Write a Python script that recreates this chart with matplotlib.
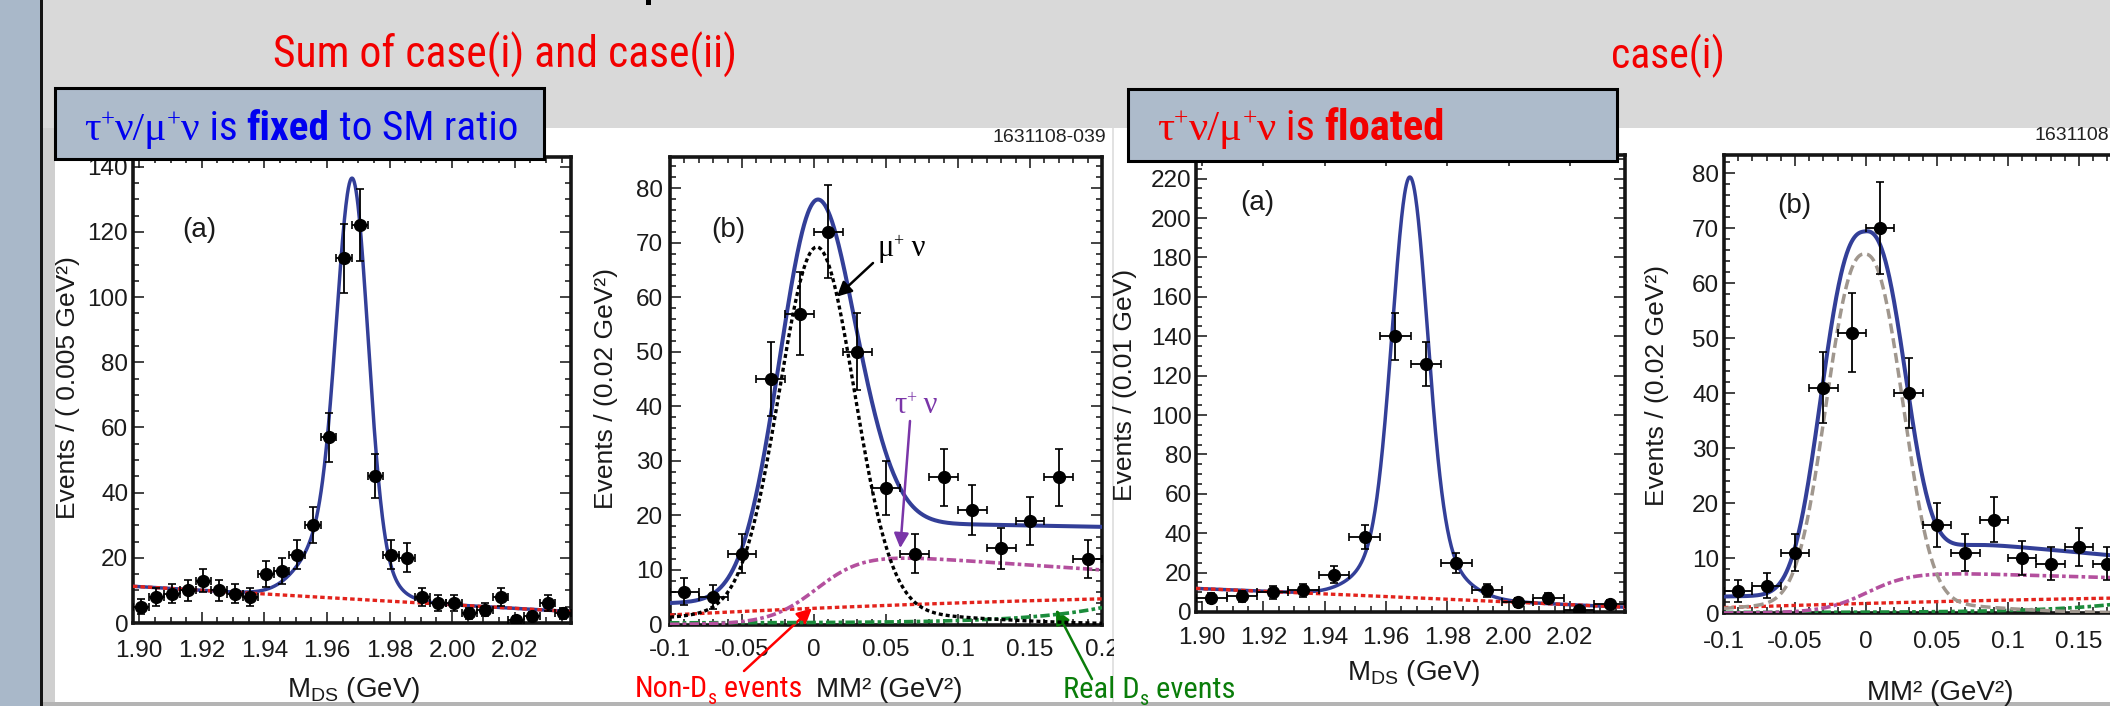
import numpy as np
import matplotlib
matplotlib.use('Agg')
import matplotlib.pyplot as plt
from matplotlib.patches import Rectangle
from matplotlib.ticker import MultipleLocator, FixedLocator, FixedFormatter
from matplotlib.font_manager import FontProperties
from matplotlib.textpath import TextPath
from matplotlib import font_manager as fm

W, H = 2110, 706

SANS = 'Liberation Sans'
SERIF = 'Liberation Serif'

plt.rcParams['font.family'] = [SANS, 'DejaVu Sans']
plt.rcParams['mathtext.fontset'] = 'custom'
plt.rcParams['mathtext.rm'] = SANS
plt.rcParams['mathtext.sf'] = SANS

TITLE = 'Sum of case(i) and case(ii)'
TITLE_RATIO = 14.3          # width / cap height of the title in the slide


def weight_of(f):
    try:
        return int(f.weight)
    except Exception:
        return {'bold': 700, 'normal': 400, 'regular': 400, 'medium': 500}.get(
            str(f.weight).lower(), 400)


def pick_narrow():
    allowed = {'liberation sans narrow', 'liberation sans', 'arial narrow',
               'roboto condensed', 'roboto', 'open sans', 'open sans condensed',
               'noto sans', 'noto sans condensed', 'noto sans semicondensed',
               'noto sans extracondensed', 'dejavu sans', 'dejavu sans condensed',
               'lato', 'inter'}
    best = None
    for f in fm.fontManager.ttflist:
        if f.name.lower() not in allowed or f.style != 'normal':
            continue
        if not 350 <= weight_of(f) <= 500:
            continue
        try:
            fp = FontProperties(fname=f.fname)
            w = TextPath((0, 0), TITLE, prop=fp, size=100).get_extents().width
            h = TextPath((0, 0), 'H', prop=fp, size=100).get_extents().height
            r = w / h
        except Exception:
            continue
        if best is None or abs(r - TITLE_RATIO) < best[0]:
            best = (abs(r - TITLE_RATIO), f)
    if best is None:
        return None, None
    reg = best[1]
    bold = None
    for f in fm.fontManager.ttflist:
        if (f.name == reg.name and str(f.stretch) == str(reg.stretch)
                and f.style == 'normal' and weight_of(f) >= 600):
            if bold is None or abs(weight_of(f) - 700) < abs(weight_of(bold) - 700):
                bold = f
    return reg.fname, (bold.fname if bold is not None else None)


NARROW_FILE, NARROW_BOLD_FILE = pick_narrow()


def font(kind, size):
    if kind == 'narrow':
        if NARROW_FILE:
            return FontProperties(fname=NARROW_FILE, size=size)
        return FontProperties(family=SANS, size=size)
    if kind == 'narrowbold':
        if NARROW_BOLD_FILE:
            return FontProperties(fname=NARROW_BOLD_FILE, size=size)
        if NARROW_FILE:
            return FontProperties(fname=NARROW_FILE, size=size, weight='bold')
        return FontProperties(family=SANS, weight='bold', size=size)
    if kind == 'serif':
        return FontProperties(family=SERIF, size=size)
    return FontProperties(family=SANS, size=size)


# ---------------------------------------------------------------- data
# Left pair: tau nu / mu nu fixed to SM ratio
mds_fixed_x = [1.9005, 1.9055, 1.9105, 1.9155, 1.9205, 1.9255, 1.9305, 1.9355,
               1.9405, 1.9455, 1.9505, 1.9555, 1.9605, 1.9655, 1.9705, 1.9755,
               1.9805, 1.9855, 1.9905, 1.9955, 2.0005, 2.0055, 2.0105, 2.0155,
               2.0205, 2.0255, 2.0305, 2.0355]
mds_fixed_n = [5, 8, 9, 10, 13, 10, 9, 8, 15, 16, 21, 30, 57, 112, 122, 45,
               21, 20, 8, 6, 6, 3, 4, 8, 1, 2, 6, 3]
mds_fixed_bkg_x = [1.898, 1.935, 1.970, 2.000, 2.038]
mds_fixed_bkg_y = [11.2, 9.3, 7.3, 5.4, 3.6]
# amplitude, mean, core sigma, wide fraction, wide sigma, wide shift
mds_fixed_peak = [130.9, 1.9682, 0.0049, 0.18, 0.010, -0.004]

mm_fixed_x = [-0.09, -0.07, -0.05, -0.03, -0.01, 0.01, 0.03, 0.05,
              0.07, 0.09, 0.11, 0.13, 0.15, 0.17, 0.19]
mm_fixed_n = [6, 5, 13, 45, 57, 72, 50, 25, 13, 27, 21, 14, 19, 27, 12]
# mu nu: amplitude, mean, width, power, tail amplitude, tail sigma
mm_fixed_munu = [66.7, 0.002, 0.0368, 2.0, 2.5, 0.09]
# tau nu: level, slope, turn-on point, turn-on width
mm_fixed_taunu = [13.6, 18.0, 0.003, 0.0163]
mm_fixed_nonds_x = [-0.1, -0.03, 0.0, 0.06, 0.2]
mm_fixed_nonds_y = [1.75, 2.65, 2.95, 3.6, 4.7]
mm_fixed_realds = [0.3, 2.8, 0.053]
# total fit: peak (amp, mean, left width, right width, power) + base
mm_fixed_total_peak = [72.5, 0.002, 0.0368, 0.0389, 2.0]
mm_fixed_total_base = [3.9, 6.0, 0.035, 0.012, 14.4, 11.0]

# Right pair: tau nu / mu nu floated
mds_float_x = [1.903, 1.913, 1.923, 1.933, 1.943, 1.953, 1.963,
               1.973, 1.983, 1.993, 2.003, 2.013, 2.023, 2.033]
mds_float_n = [7, 8, 10, 11, 19, 38, 140, 126, 25, 11, 5, 7, 1, 4]
mds_float_bkg_x = [1.898, 1.940, 1.970, 2.000, 2.038]
mds_float_bkg_y = [11.8, 9.5, 7.4, 4.5, 2.7]
mds_float_peak = [213.5, 1.9678, 0.0056, 0.15, 0.012, 0.0]

mm_float_x = [-0.09, -0.07, -0.05, -0.03, -0.01, 0.01, 0.03,
              0.05, 0.07, 0.09, 0.11, 0.13, 0.15, 0.17]
mm_float_n = [4, 5, 11, 41, 51, 70, 40, 16, 11, 17, 10, 9, 12, 9]
mm_float_munu = [63.0, -0.001, 0.0346, 2.35, 2.3, 0.07]
mm_float_taunu = [7.73, 7.5, 0.0019, 0.0155]
mm_float_nonds_x = [-0.1, 0.0, 0.1, 0.2]
mm_float_nonds_y = [1.0, 1.7, 2.4, 2.8]
mm_float_realds = [0.1, 2.4, 0.053]
mm_float_total_peak = [65.65, -0.001, 0.0374, 0.0358, 2.6]
mm_float_total_base = [3.0, 4.0, 0.040, 0.012, 11.15, 27.5]

mds_ticks = [1.90, 1.92, 1.94, 1.96, 1.98, 2.00, 2.02]
mds_ticklabels = ['1.90', '1.92', '1.94', '1.96', '1.98', '2.00', '2.02']
mm_ticks = [-0.1, -0.05, 0.0, 0.05, 0.1, 0.15, 0.2]
mm_ticklabels = ['-0.1', '-0.05', '0', '0.05', '0.1', '0.15', '0.2']
mm_float_ticks = [-0.1, -0.05, 0.0, 0.05, 0.1, 0.15]
mm_float_ticklabels = ['-0.1', '-0.05', '0', '0.05', '0.1', '0.15']

# ---------------------------------------------------------------- styles
BLUE = '#333f98'
RED = '#e3231c'
MAG = '#b4509e'
GREEN = '#1b8c3c'
GRAY = '#a0978e'
TXT_RED = '#f20000'
TXT_BLUE = '#0000f0'
PURPLE = '#7a35a8'


# ---------------------------------------------------------------- shapes
def dgauss(x, amp, mu, s1, fw, s2, shift):
    return amp * ((1 - fw) * np.exp(-0.5 * ((x - mu) / s1) ** 2)
                  + fw * np.exp(-0.5 * ((x - mu - shift) / s2) ** 2))


def ggauss(x, amp, mu, aL, aR, p):
    d = x - mu
    a = np.where(d < 0, aL, aR)
    return amp * np.exp(-np.abs(d / a) ** p)


def munu_shape(x, amp, mu, a, p, tamp, ts):
    return ggauss(x, amp, mu, a, a, p) + tamp * np.exp(-0.5 * ((x - mu) / ts) ** 2)


def taunu_shape(x, level, slope, x0, w):
    return (level - slope * x) / (1 + np.exp(-(x - x0) / w))


def realds_shape(x, floor, amp, scale):
    return floor + amp * np.exp((x - 0.2) / scale)


def base_shape(x, b0, b1, xc, w, c, k):
    return b0 + b1 * (x + 0.1) + (c - k * x) / (1 + np.exp(-(x - xc) / w))


def quad(xk, yk, x):
    return np.polyval(np.polyfit(xk, yk, 2), x)


# ---------------------------------------------------------------- figure
fig = plt.figure(figsize=(W / 100, H / 100), dpi=100)
fig.patch.set_facecolor('#d9d9d9')
renderer = fig.canvas.get_renderer()


def rect(x0, y0, x1, y1, fc, z, ec='none', lw=0):
    fig.add_artist(Rectangle((x0 / W, 1 - y1 / H), (x1 - x0) / W, (y1 - y0) / H,
                             transform=fig.transFigure, facecolor=fc,
                             edgecolor=ec, linewidth=lw, zorder=z))


rect(0, 0, 40, H, '#a9b8c9', -2)
rect(40, 0, 43, H, '#151515', -2)
rect(43, 128, 55, 703, '#cfcfcf', -2)
rect(55, 128, 1112, 702, 'white', -1)
rect(1112, 128, 1114, 702, '#e2e2e2', -1)
rect(1114, 128, 2110, 702, 'white', 0.5)
rect(43, 702, 2110, 706, '#b4b4b4', -1)
rect(646, 0, 651, 5, 'black', 2)


def add_ax(l, r, t, b, z=0):
    ax = fig.add_axes([l / W, 1 - b / H, (r - l) / W, (b - t) / H])
    ax.set_zorder(z)
    ax.set_facecolor('white')
    return ax


def setup(ax, xlim, ylim, xticks, xlabels, xminor, ymaj, ymin, xpad, ypad):
    ax.set_xlim(xlim)
    ax.set_ylim(ylim)
    ax.xaxis.set_major_locator(FixedLocator(xticks))
    ax.xaxis.set_major_formatter(FixedFormatter(xlabels))
    ax.xaxis.set_minor_locator(MultipleLocator(xminor))
    ax.yaxis.set_major_locator(MultipleLocator(ymaj))
    ax.yaxis.set_minor_locator(MultipleLocator(ymin))
    ax.tick_params(which='both', direction='in', top=True, right=True,
                   width=1.1, color='#111111')
    ax.tick_params(which='major', length=8)
    ax.tick_params(which='minor', length=4)
    ax.tick_params(axis='x', which='major', pad=xpad, labelsize=17.5, labelcolor='#1a1a1a')
    ax.tick_params(axis='y', which='major', pad=ypad, labelsize=17.5, labelcolor='#1a1a1a')
    for s in ax.spines.values():
        s.set_linewidth(2.6)
        s.set_color('#151515')


def points(ax, x, n, hw):
    n = np.asarray(n, float)
    ax.errorbar(x, n, yerr=np.sqrt(n), xerr=hw, fmt='o', ms=8.5,
                mfc='black', mec='black', ecolor='black', elinewidth=1.3,
                capsize=2.8, capthick=1.2, zorder=6)


def ftext(x, y, s, **kw):
    return fig.text(x / W, 1 - y / H, s, **kw)


def rich(x, yb, pieces, color, target=None, z=4):
    """pieces: (text, font kind, size, raise in px)"""
    scale = 1.0
    if target is not None:
        total = 0.0
        for s, kind, size, dy in pieces:
            t = fig.text(0, 0, s, fontproperties=font(kind, size))
            total += t.get_window_extent(renderer).width
            t.remove()
        scale = target / total
    for s, kind, size, dy in pieces:
        t = fig.text(x / W, 1 - (yb - dy * scale) / H, s,
                     fontproperties=font(kind, size * scale), color=color,
                     ha='left', va='baseline', zorder=z)
        x += t.get_window_extent(renderer).width


# ----- panel 1 : M_DS, fixed
ax1 = add_ax(133, 571, 157, 623)
setup(ax1, (1.898, 2.038), (0, 143), mds_ticks, mds_ticklabels, 0.005, 20, 5, 12, 3.5)
xg = np.linspace(1.898, 2.038, 900)
bg1 = quad(mds_fixed_bkg_x, mds_fixed_bkg_y, xg)
ax1.plot(xg, bg1 + dgauss(xg, *mds_fixed_peak), color=BLUE, lw=2.5, zorder=3)
ax1.plot(xg, bg1, color=RED, lw=2.4, dashes=(1.35, 0.9), dash_capstyle='butt', zorder=4)
points(ax1, mds_fixed_x, mds_fixed_n, 0.0025)

# ----- panel 2 : MM2, fixed
ax2 = add_ax(670, 1102, 157, 624.5)
setup(ax2, (-0.1, 0.2), (0, 85.7), mm_ticks, mm_ticklabels, 0.01, 10, 2, 10.5, 5)
xm = np.linspace(-0.1, 0.2, 900)
ax2.plot(xm, ggauss(xm, *mm_fixed_total_peak) + base_shape(xm, *mm_fixed_total_base),
         color=BLUE, lw=2.9, zorder=3)
ax2.plot(xm, quad(mm_fixed_nonds_x, mm_fixed_nonds_y, xm), color=RED, lw=2.4,
         dashes=(1.35, 0.9), dash_capstyle='butt', zorder=4)
ax2.plot(xm, realds_shape(xm, *mm_fixed_realds), color=GREEN, lw=2.6,
         dashes=(2.6, 0.9, 1.0, 0.9), dash_capstyle='butt', zorder=4)
ax2.plot(xm, taunu_shape(xm, *mm_fixed_taunu), color=MAG, lw=2.6,
         dashes=(2.6, 0.9, 1.0, 0.9), dash_capstyle='butt', zorder=4)
ax2.plot(xm, munu_shape(xm, *mm_fixed_munu), color='black', lw=2.4,
         dashes=(1.2, 0.9), dash_capstyle='butt', zorder=4)
points(ax2, mm_fixed_x, mm_fixed_n, 0.01)

arrow_kw = dict(arrowstyle='-|>', lw=1.8, mutation_scale=22, shrinkA=0, shrinkB=0)
for tip, tail, col in [((0.0159, 60.1), (873, 263), 'black'),
                       ((0.0599, 14.0), (910, 421), PURPLE),
                       ((-0.0015, 2.97), (744, 671), '#ff0000'),
                       ((0.168, 2.75), (1092, 679), '#0a7d0a')]:
    ax2.annotate('', xy=tip, xycoords='data', xytext=(tail[0], H - tail[1]),
                 textcoords='figure pixels', annotation_clip=False,
                 arrowprops=dict(color=col, **arrow_kw))

# ----- panel 3 : M_DS, floated
ax3 = add_ax(1196, 1625, 155, 612, z=1)
setup(ax3, (1.898, 2.038), (0, 232), mds_ticks, mds_ticklabels, 0.005, 20, 5, 11, 3)
bg3 = quad(mds_float_bkg_x, mds_float_bkg_y, xg)
ax3.plot(xg, bg3 + dgauss(xg, *mds_float_peak), color=BLUE, lw=2.5, zorder=3)
ax3.plot(xg, bg3, color=RED, lw=2.4, dashes=(1.35, 0.9), dash_capstyle='butt', zorder=4)
points(ax3, mds_float_x, mds_float_n, 0.005)

# ----- panel 4 : MM2, floated (continues past the right edge of the slide)
ax4 = add_ax(1724, 2150, 155, 613, z=1)
setup(ax4, (-0.1, 0.2), (0, 83.3), mm_float_ticks, mm_float_ticklabels, 0.01, 10, 2, 13, 3.5)
ax4.plot(xm, ggauss(xm, *mm_float_total_peak) + base_shape(xm, *mm_float_total_base),
         color=BLUE, lw=2.9, zorder=3)
ax4.plot(xm, quad(mm_float_nonds_x, mm_float_nonds_y, xm), color=RED, lw=2.4,
         dashes=(1.35, 0.9), dash_capstyle='butt', zorder=4)
ax4.plot(xm, realds_shape(xm, *mm_float_realds), color=GREEN, lw=2.6,
         dashes=(2.6, 0.9, 1.0, 0.9), dash_capstyle='butt', zorder=4)
ax4.plot(xm, taunu_shape(xm, *mm_float_taunu), color=MAG, lw=2.6,
         dashes=(2.6, 0.9, 1.0, 0.9), dash_capstyle='butt', zorder=4)
ax4.plot(xm, munu_shape(xm, *mm_float_munu), color=GRAY, lw=2.5,
         dashes=(2.9, 1.4), dash_capstyle='butt', zorder=4)
points(ax4, mm_float_x, mm_float_n, 0.01)

# ----- boxes
rect(55, 88, 544, 159, '#adbbcb', 2, ec='black', lw=2.2)
rect(1128, 89, 1617, 161, '#adbbcb', 2, ec='black', lw=2.2)

# ----- texts
rich(273, 68, [(TITLE, 'narrow', 33, 0)], TXT_RED, target=464)
rich(1611, 68, [('case(i)', 'narrow', 33, 0)], TXT_RED, target=114)

greek = [('τ', 'serif', 30, 0), ('+', 'serif', 18, 14),
         ('ν/μ', 'serif', 30, 0), ('+', 'serif', 18, 14),
         ('ν', 'serif', 30, 0)]
rich(84, 140, greek + [(' is ', 'narrow', 30, 0), ('fixed', 'narrowbold', 30, 0),
                       (' to SM ratio', 'narrow', 30, 0)], TXT_BLUE, target=434)
rich(1157, 140, greek + [(' is ', 'narrow', 30, 0), ('floated', 'narrowbold', 30, 0)],
     TXT_RED, target=288)
rich(877, 256, [('μ', 'serif', 22, 0), ('+', 'serif', 13, 10), (' ν', 'serif', 22, 0)], 'black')
rich(894, 413, [('τ', 'serif', 22, 0), ('+', 'serif', 13, 10), (' ν', 'serif', 22, 0)], PURPLE)

rich(635, 697, [('Non-D', 'narrow', 23, 0), ('s', 'narrow', 15, -7),
                (' events', 'narrow', 23, 0)], '#ff0000', target=168)
rich(1063, 698, [('Real D', 'narrow', 23, 0), ('s', 'narrow', 15, -7),
                 (' events', 'narrow', 23, 0)], '#0a7d0a', target=172)

ftext(1106, 137, '1631108-039', fontsize=14, color='#222222', ha='right', va='center')
ftext(2034, 135, '1631108', fontsize=14, color='#222222', ha='left', va='center')

for (x, y, s) in [(182, 230, '(a)'), (711, 230, '(b)'), (1240, 203, '(a)'), (1777, 206, '(b)')]:
    ftext(x, y, s, fontsize=20, color='#1a1a1a', ha='left', va='center')

for (x, y, s) in [(68, 388, 'Events / ( 0.005 GeV²)'), (606, 388, 'Events / (0.02 GeV²)'),
                  (1125, 385, 'Events / (0.01 GeV)'), (1657, 386, 'Events / (0.02 GeV²)')]:
    ftext(x, y, s, fontsize=19, color='#1a1a1a', rotation=90, ha='center', va='center')

for (x, y, s) in [(287, 697, r'M$_\mathsf{DS}$ (GeV)'), (816, 697, 'MM² (GeV²)'),
                  (1347, 680, r'M$_\mathsf{DS}$ (GeV)'), (1867, 700, 'MM² (GeV²)')]:
    ftext(x, y, s, fontsize=20, color='#1a1a1a', ha='left', va='baseline')

fig.savefig('out.png', dpi=100, facecolor=fig.get_facecolor())
